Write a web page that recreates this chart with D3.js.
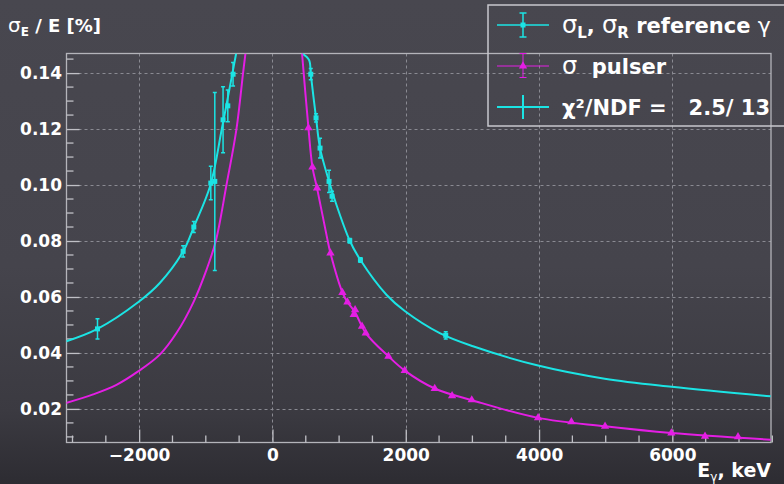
<!DOCTYPE html>
<html>
<head>
<meta charset="utf-8">
<script src="https://cdn.jsdelivr.net/npm/d3@7"></script>
<style>
  html, body { margin: 0; padding: 0; background: #3f3e46; }
  svg { display: block; font-family: "DejaVu Sans", sans-serif; font-weight: bold; }
</style>
</head>
<body>
<svg id="chart" width="784" height="484"></svg>
<script>
// Reference-gamma resolution points: energy (keV), sigma/E, error
const refE   = [-2625, -1340, -1180, -925, -865, -741, -670, -591, 575, 654, 714, 849, 894, 1160, 1320, 2600];
const refVal = [0.0486, 0.0763, 0.0850, 0.1007, 0.1013, 0.1233, 0.1283, 0.1396, 0.1396, 0.1240, 0.1132, 0.1013, 0.0960, 0.0801, 0.0732, 0.0463];
const refErr = [0.0036, 0.0020, 0.0020, 0.0060, 0.0318, 0.0118, 0.0057, 0.0042, 0.0020, 0.0015, 0.0035, 0.0040, 0.0018, 0.0008, 0.0008, 0.0013];

// Pulser resolution points
const pulE   = [540, 600, 669, 870, 1050, 1125, 1220, 1240, 1344, 1400, 1740, 1985, 2435, 2695, 2990, 3985, 4485, 4990, 5985, 6490, 6985];
const pulVal = [0.1204, 0.1064, 0.0989, 0.0757, 0.0616, 0.0582, 0.0537, 0.0554, 0.0495, 0.0471, 0.0388, 0.0337, 0.0273, 0.0247, 0.0232, 0.0168, 0.0154, 0.0138, 0.0114, 0.0102, 0.0100];
const pulErr = [0.0008, 0.0008, 0.0008, 0.0006, 0.0006, 0.0006, 0.0006, 0.0006, 0.0005, 0.0005, 0.0005, 0.0004, 0.0004, 0.0004, 0.0004, 0.0003, 0.0003, 0.0003, 0.0003, 0.0003, 0.0003];

// Fitted resolution curves, sampled along energy
const refFitLeftE    = [-3100, -2625, -2016, -1690, -1340, -1180, -930, -760, -600, -545];
const refFitLeftV    = [0.0441, 0.0486, 0.0581, 0.0650, 0.0763, 0.0850, 0.1000, 0.1200, 0.1400, 0.1470];
const refFitRightE   = [444, 549, 575, 654, 714, 849, 935, 1160, 1320, 1710, 1985, 2510, 3009, 3985, 4985, 5990, 7475];
const refFitRightV   = [0.1470, 0.1447, 0.1396, 0.1240, 0.1132, 0.1013, 0.0947, 0.0801, 0.0732, 0.0608, 0.0550, 0.0471, 0.0424, 0.0355, 0.0308, 0.0279, 0.0245];
const pulFitLeftE    = [-3100, -2690, -2340, -2016, -1690, -1440, -1190, -990, -850, -690, -540, -441, -405];
const pulFitLeftV    = [0.0221, 0.0252, 0.0286, 0.0334, 0.0394, 0.0471, 0.0579, 0.0697, 0.0800, 0.1000, 0.1200, 0.1400, 0.1470];
const pulFitRightE   = [444, 540, 600, 669, 825, 870, 1050, 1125, 1240, 1400, 1740, 1985, 2435, 2995, 3985, 4990, 5985, 7475];
const pulFitRightV   = [0.1470, 0.1204, 0.1064, 0.0989, 0.0805, 0.0757, 0.0616, 0.0582, 0.0545, 0.0471, 0.0388, 0.0337, 0.0273, 0.0231, 0.0168, 0.0138, 0.0114, 0.0090];

// Axis ticks
const xMajor = [-2000, 0, 2000, 4000, 6000];
const yMajor = [0.02, 0.04, 0.06, 0.08, 0.10, 0.12, 0.14];
const xMinor = d3.range(-3000, 7501, 500);
const yMinor = d3.range(10, 146, 5).map(d => d / 1000);

const legendLabels = ["reference", "pulser", "χ²/NDF =   2.5/ 13"];

const CYAN = "#1be4e4";
const MAGENTA = "#e41ee4";
const W = 784, H = 484;
const plot = { left: 66.5, right: 771, top: 53.5, bottom: 442.5 };

const svg = d3.select("#chart");
const defs = svg.append("defs");

const bg = defs.append("linearGradient").attr("id", "bg").attr("x1", 0).attr("y1", 0).attr("x2", 0).attr("y2", 1);
bg.append("stop").attr("offset", "0").attr("stop-color", "#48474f");
bg.append("stop").attr("offset", "0.55").attr("stop-color", "#45444c");
bg.append("stop").attr("offset", "0.85").attr("stop-color", "#3b3a41");
bg.append("stop").attr("offset", "1").attr("stop-color", "#2d2c32");
svg.append("rect").attr("width", W).attr("height", H).attr("fill", "url(#bg)");

defs.append("clipPath").attr("id", "plotClip").append("rect")
  .attr("x", plot.left).attr("y", plot.top)
  .attr("width", plot.right - plot.left).attr("height", plot.bottom - plot.top);

const x = d3.scaleLinear().domain([-3090, 7480]).range([plot.left, plot.right]);
const y = d3.scaleLinear().domain([0.008, 0.147]).range([plot.bottom, plot.top]);

// Dashed grid at major ticks
const grid = svg.append("g").attr("stroke", "#8a8a92").attr("stroke-width", 1).attr("stroke-dasharray", "3,3");
grid.selectAll("line.gx").data(xMajor).join("line")
  .attr("x1", d => Math.round(x(d)) + 0.5).attr("x2", d => Math.round(x(d)) + 0.5)
  .attr("y1", plot.top).attr("y2", plot.bottom);
grid.selectAll("line.gy").data(yMajor).join("line")
  .attr("y1", d => Math.round(y(d)) + 0.5).attr("y2", d => Math.round(y(d)) + 0.5)
  .attr("x1", plot.left).attr("x2", plot.right);

// Frame
svg.append("rect").attr("x", plot.left).attr("y", plot.top)
  .attr("width", plot.right - plot.left).attr("height", plot.bottom - plot.top)
  .attr("fill", "none").attr("stroke", "#b4b4ba").attr("stroke-width", 1.3);

// Axes with inward ticks
const labelFont = "DejaVu Sans, sans-serif";
const xAxis = d3.axisBottom(x).tickValues(xMajor).tickSize(-13).tickPadding(6).tickFormat(d3.format("d"));
const gx = svg.append("g").attr("transform", `translate(0,${plot.bottom})`).call(xAxis);
gx.select(".domain").remove();
gx.selectAll(".tick line").attr("stroke", "#c0c0c6").attr("stroke-width", 1.3);
gx.selectAll(".tick text").attr("fill", "#ffffff").attr("font-size", 17).attr("font-weight", "bold")
  .attr("font-family", labelFont);
svg.append("g").selectAll("line").data(xMinor.filter(d => !xMajor.includes(d))).join("line")
  .attr("x1", d => x(d)).attr("x2", d => x(d))
  .attr("y1", plot.bottom).attr("y2", plot.bottom - 7)
  .attr("stroke", "#c0c0c6").attr("stroke-width", 1.3);

const yAxis = d3.axisLeft(y).tickValues(yMajor).tickSize(-13).tickPadding(17).tickFormat(d3.format(".2f"));
const gy = svg.append("g").attr("transform", `translate(${plot.left},0)`).call(yAxis);
gy.select(".domain").remove();
gy.selectAll(".tick line").attr("stroke", "#c0c0c6").attr("stroke-width", 1.3);
gy.selectAll(".tick text").attr("fill", "#ffffff").attr("font-size", 17).attr("font-weight", "bold")
  .attr("font-family", labelFont).attr("x", -4.5);
svg.append("g").selectAll("line").data(yMinor.filter(d => !yMajor.some(m => Math.abs(m - d) < 1e-9))).join("line")
  .attr("y1", d => y(d)).attr("y2", d => y(d))
  .attr("x1", plot.left).attr("x2", plot.left + 7)
  .attr("stroke", "#c0c0c6").attr("stroke-width", 1.3);

// Plot contents
const g = svg.append("g").attr("clip-path", "url(#plotClip)");
const line = d3.line().x(d => x(d[0])).y(d => y(d[1])).curve(d3.curveCatmullRom.alpha(0.5));
const zip = (a, b) => a.map((v, i) => [v, b[i]]);

[[refFitLeftE, refFitLeftV, CYAN], [refFitRightE, refFitRightV, CYAN],
 [pulFitLeftE, pulFitLeftV, MAGENTA], [pulFitRightE, pulFitRightV, MAGENTA]].forEach(([e, v, c]) => {
  g.append("path").datum(zip(e, v)).attr("d", line)
    .attr("fill", "none").attr("stroke", c).attr("stroke-width", 2);
});

// Pulser points: error bars and triangles
const pul = pulE.map((e, i) => ({ e, v: pulVal[i], err: pulErr[i] }));
g.append("g").selectAll("line").data(pul).join("line")
  .attr("x1", d => x(d.e)).attr("x2", d => x(d.e))
  .attr("y1", d => y(d.v - d.err)).attr("y2", d => y(d.v + d.err))
  .attr("stroke", MAGENTA).attr("stroke-width", 1);
const tri = d3.symbol().type(d3.symbolTriangle).size(30);
g.append("g").selectAll("path").data(pul).join("path")
  .attr("d", tri).attr("transform", d => `translate(${x(d.e)},${y(d.v)})`)
  .attr("fill", MAGENTA);

// Reference points: error bars with caps and squares
const ref = refE.map((e, i) => ({ e, v: refVal[i], err: refErr[i] }));
const rg = g.append("g").attr("stroke", CYAN).attr("stroke-width", 1.5);
rg.selectAll("line.bar").data(ref).join("line")
  .attr("x1", d => x(d.e)).attr("x2", d => x(d.e))
  .attr("y1", d => y(d.v - d.err)).attr("y2", d => y(d.v + d.err));
rg.selectAll("line.capHi").data(ref).join("line")
  .attr("x1", d => x(d.e) - 2).attr("x2", d => x(d.e) + 2)
  .attr("y1", d => y(d.v + d.err)).attr("y2", d => y(d.v + d.err));
rg.selectAll("line.capLo").data(ref).join("line")
  .attr("x1", d => x(d.e) - 2).attr("x2", d => x(d.e) + 2)
  .attr("y1", d => y(d.v - d.err)).attr("y2", d => y(d.v - d.err));
g.append("g").selectAll("rect").data(ref).join("rect")
  .attr("x", d => x(d.e) - 2.5).attr("y", d => y(d.v) - 2.5)
  .attr("width", 5).attr("height", 5).attr("fill", CYAN);

// Axis titles
const yt = svg.append("text").attr("x", 8).attr("y", 31.5).attr("fill", "#fff").attr("font-size", 18);
yt.append("tspan").attr("font-weight", "normal").attr("font-size", 20).text("σ");
yt.append("tspan").attr("font-size", 12).attr("dy", 4).text("E");
yt.append("tspan").attr("dy", -4).text(" / E [%]");

const xt = svg.append("text").attr("x", 771).attr("y", 476.5).attr("text-anchor", "end").attr("fill", "#fff").attr("font-size", 19);
xt.append("tspan").text("E");
xt.append("tspan").attr("font-size", 12).attr("dy", 4).attr("font-weight", "normal").text("γ");
xt.append("tspan").attr("dy", -4).text(", keV");

// Legend
const lg = svg.append("g");
lg.append("rect").attr("x", 488).attr("y", 5).attr("width", 300).attr("height", 121)
  .attr("fill", "none").attr("stroke", "#c8c8ce").attr("stroke-width", 1.5);

const lx0 = 497, lx1 = 549, lxc = 523, tx = 562;
// row 1: reference
lg.append("line").attr("x1", lx0).attr("x2", lx1).attr("y1", 25).attr("y2", 25).attr("stroke", CYAN).attr("stroke-width", 1.5);
lg.append("line").attr("x1", lxc).attr("x2", lxc).attr("y1", 13).attr("y2", 37).attr("stroke", CYAN).attr("stroke-width", 1.5);
[13, 37].forEach(yy => lg.append("line").attr("x1", lxc - 3.5).attr("x2", lxc + 3.5).attr("y1", yy).attr("y2", yy).attr("stroke", CYAN).attr("stroke-width", 1.5));
lg.append("rect").attr("x", lxc - 2.5).attr("y", 22.5).attr("width", 5).attr("height", 5).attr("fill", CYAN);
// row 2: pulser
lg.append("line").attr("x1", lx0).attr("x2", lx1).attr("y1", 66).attr("y2", 66).attr("stroke", MAGENTA).attr("stroke-width", 1);
lg.append("line").attr("x1", lxc).attr("x2", lxc).attr("y1", 53.5).attr("y2", 77.5).attr("stroke", MAGENTA).attr("stroke-width", 1);
[53.5, 77.5].forEach(yy => lg.append("line").attr("x1", lxc - 3.5).attr("x2", lxc + 3.5).attr("y1", yy).attr("y2", yy).attr("stroke", MAGENTA).attr("stroke-width", 1));
lg.append("path").attr("d", d3.symbol().type(d3.symbolTriangle).size(30)).attr("transform", `translate(${lxc},66)`).attr("fill", MAGENTA);
// row 3: fit
lg.append("line").attr("x1", lx0).attr("x2", lx1).attr("y1", 107).attr("y2", 107).attr("stroke", CYAN).attr("stroke-width", 2);
lg.append("line").attr("x1", lxc).attr("x2", lxc).attr("y1", 95).attr("y2", 119).attr("stroke", CYAN).attr("stroke-width", 2);

const t1 = lg.append("text").attr("x", tx).attr("y", 33).attr("fill", "#fff").attr("font-size", 21);
t1.append("tspan").attr("font-weight", "normal").attr("font-size", 24).text("σ");
t1.append("tspan").attr("font-size", 15).attr("dy", 5).text("L");
t1.append("tspan").attr("dy", -5).text(", ");
t1.append("tspan").attr("font-weight", "normal").attr("font-size", 24).text("σ");
t1.append("tspan").attr("font-size", 15).attr("dy", 5).text("R");
t1.append("tspan").attr("dy", -5).text(" " + legendLabels[0] + " ");
t1.append("tspan").attr("font-weight", "normal").attr("font-size", 22).text("γ");

const t2 = lg.append("text").attr("x", tx).attr("y", 74).attr("fill", "#fff").attr("font-size", 21)
  .attr("xml:space", "preserve").style("white-space", "pre");
t2.append("tspan").attr("font-weight", "normal").attr("font-size", 24).text("σ");
t2.append("tspan").text("  " + legendLabels[1]);

lg.append("text").attr("x", tx).attr("y", 115).attr("fill", "#fff").attr("font-size", 21)
  .attr("xml:space", "preserve").style("white-space", "pre").text(legendLabels[2]);
</script>
</body>
</html>
